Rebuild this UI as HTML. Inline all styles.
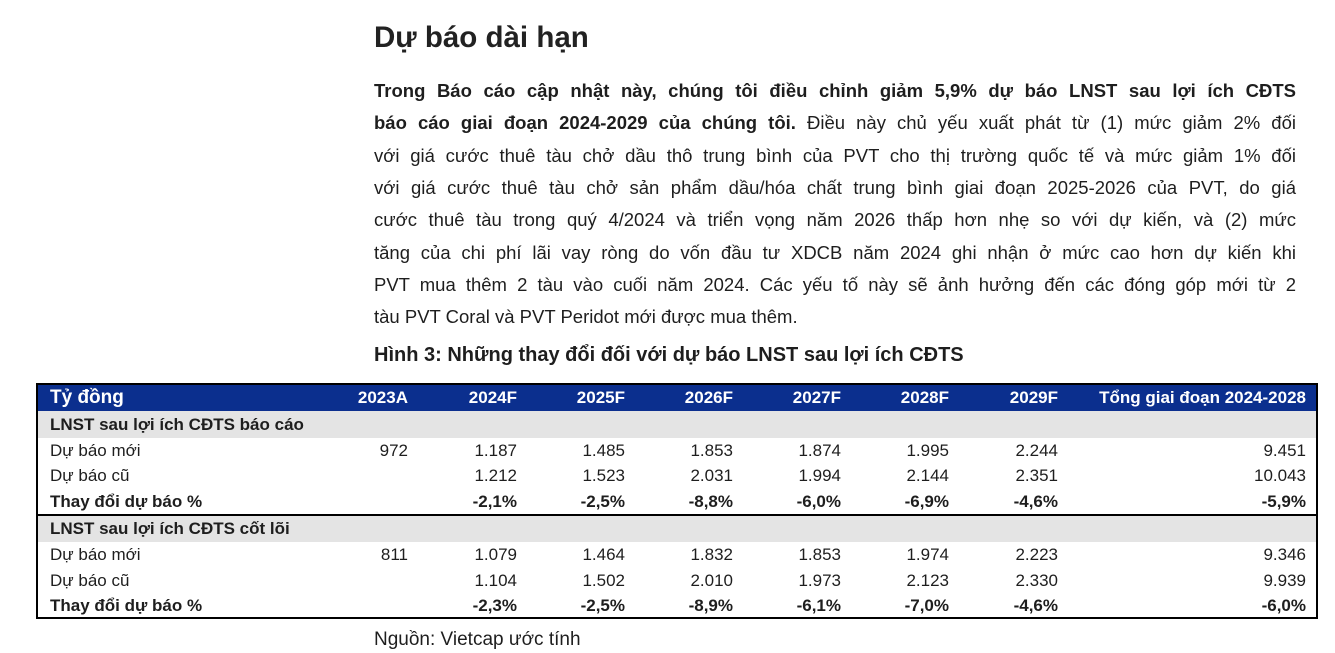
<!DOCTYPE html>
<html><head><meta charset="utf-8">
<style>
body{margin:0;width:1335px;height:653px;background:#fff;position:relative;overflow:hidden;font-family:"Liberation Sans","DejaVu Sans",sans-serif;color:#1e1e1e}
.a{position:absolute;white-space:nowrap}
h1{position:absolute;left:374px;top:21px;margin:0;font-size:29.5px;font-weight:bold;color:#222}
.ln{position:absolute;left:374px;width:922px;font-size:18.5px;line-height:22px;text-align:justify;text-align-last:justify;white-space:nowrap}
.ln.last{text-align-last:left}
#tbl{position:absolute;left:36px;top:383px;width:1278px;height:232px;border:2px solid #000;box-sizing:content-box}
.row{position:absolute;left:0;width:1278px;font-size:17px}
.row span{position:absolute;top:0;line-height:inherit}
.c0{left:12px}
.n{text-align:right;width:100px}
</style></head><body>
<h1>Dự báo dài hạn</h1>
<div class="ln" style="top:80px"><b>Trong Báo cáo cập nhật này, chúng tôi điều chỉnh giảm 5,9% dự báo LNST sau lợi ích CĐTS</b></div>
<div class="ln" style="top:112px"><b>báo cáo giai đoạn 2024-2029 của chúng tôi.</b> Điều này chủ yếu xuất phát từ (1) mức giảm 2% đối</div>
<div class="ln" style="top:145px">với giá cước thuê tàu chở dầu thô trung bình của PVT cho thị trường quốc tế và mức giảm 1% đối</div>
<div class="ln" style="top:177px">với giá cước thuê tàu chở sản phẩm dầu/hóa chất trung bình giai đoạn 2025-2026 của PVT, do giá</div>
<div class="ln" style="top:209px">cước thuê tàu trong quý 4/2024 và triển vọng năm 2026 thấp hơn nhẹ so với dự kiến, và (2) mức</div>
<div class="ln" style="top:242px">tăng của chi phí lãi vay ròng do vốn đầu tư XDCB năm 2024 ghi nhận ở mức cao hơn dự kiến khi</div>
<div class="ln" style="top:274px">PVT mua thêm 2 tàu vào cuối năm 2024. Các yếu tố này sẽ ảnh hưởng đến các đóng góp mới từ 2</div>
<div class="ln last" style="top:306px">tàu PVT Coral và PVT Peridot mới được mua thêm.</div>
<div class="a" style="left:374px;top:344px;font-size:20px;font-weight:bold">Hình 3: Những thay đổi đối với dự báo LNST sau lợi ích CĐTS</div>
<div id="tbl"></div>
<div class="a" style="left:374px;top:629px;font-size:19px">Nguồn: Vietcap ước tính</div>
<script>
const years=["2023A","2024F","2025F","2026F","2027F","2028F","2029F","Tổng giai đoạn 2024-2028"];
const rep_new=["972","1.187","1.485","1.853","1.874","1.995","2.244","9.451"];
const rep_old=["","1.212","1.523","2.031","1.994","2.144","2.351","10.043"];
const rep_chg=["","-2,1%","-2,5%","-8,8%","-6,0%","-6,9%","-4,6%","-5,9%"];
const core_new=["811","1.079","1.464","1.832","1.853","1.974","2.223","9.346"];
const core_old=["","1.104","1.502","2.010","1.973","2.123","2.330","9.939"];
const core_chg=["","-2,3%","-2,5%","-8,9%","-6,1%","-7,0%","-4,6%","-6,0%"];
const rights=[370,479,587,695,803,911,1020,1268];
const tbl=document.getElementById('tbl');
const rows=[
 {label:"Tỷ đồng",vals:years,h:26,bg:"#0b2f8e",color:"#fff",bold:true,name:"header-row"},
 {label:"LNST sau lợi ích CĐTS báo cáo",vals:[],h:27,bg:"#e4e4e4",bold:true,name:"reported-section-row"},
 {label:"Dự báo mới",vals:rep_new,h:25,name:"reported-new-row"},
 {label:"Dự báo cũ",vals:rep_old,h:26,name:"reported-old-row"},
 {label:"Thay đổi dự báo %",vals:rep_chg,h:25,bold:true,name:"reported-change-row",bottom:true},
 {label:"LNST sau lợi ích CĐTS cốt lõi",vals:[],h:26,bg:"#e4e4e4",bold:true,name:"core-section-row"},
 {label:"Dự báo mới",vals:core_new,h:26,name:"core-new-row"},
 {label:"Dự báo cũ",vals:core_old,h:25,name:"core-old-row"},
 {label:"Thay đổi dự báo %",vals:core_chg,h:26,bold:true,name:"core-change-row"}
];
let y=0;
rows.forEach(r=>{
 const d=document.createElement('div');
 
 
 d.className='row';
 d.style.top=y+'px';d.style.height=r.h+'px';d.style.lineHeight=r.h+'px';
 if(r.bg)d.style.background=r.bg;
 if(r.color)d.style.color=r.color;
 if(r.bold)d.style.fontWeight='bold';
 if(r.bottom)d.style.borderBottom='2px solid #000';
 const l=document.createElement('span');
 
 
 l.className='c0';l.textContent=r.label;
 if(r.name==='header-row')l.style.fontSize='19px';
 d.appendChild(l);
 r.vals.forEach((v,i)=>{
  const s=document.createElement('span');
  
  
  s.className='n';
  const w=i===7?260:100;
  s.style.width=w+'px';s.style.left=(rights[i]-w)+'px';
  s.textContent=v;
  d.appendChild(s);
 });
 tbl.appendChild(d);
 y+=r.h+(r.bottom?2:0);
});
</script>
</body></html>
